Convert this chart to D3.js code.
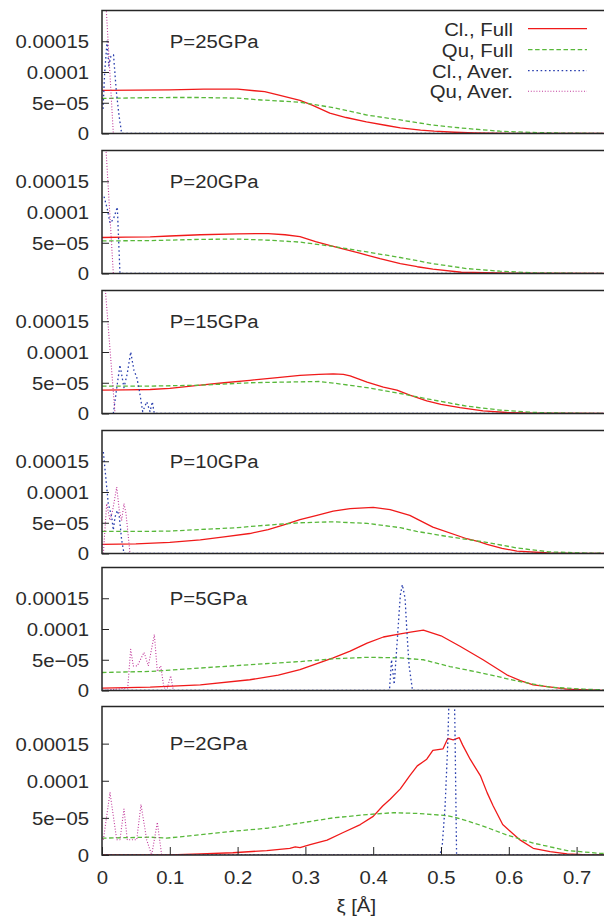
<!DOCTYPE html>
<html>
<head>
<meta charset="utf-8">
<script src="https://cdn.jsdelivr.net/npm/d3@7"></script>
<style>
  html, body { margin: 0; padding: 0; background: #fff; }
  svg { display: block; }
  text { font-family: "Liberation Sans", Arial, Helvetica, sans-serif; fill: #2b2b2b; }
</style>
</head>
<body>
<svg id="chart" width="604" height="920"></svg>
<script>
// ---------------- DATA (values in units of 1e-5) ----------------
const yUnit = 1e-5;
const panelLabels = ["P=25GPa", "P=20GPa", "P=15GPa", "P=10GPa", "P=5GPa", "P=2GPa"];
const seriesNames = ["Cl., Full", "Qu, Full", "Cl., Aver.", "Qu, Aver."];
const yTickValues = [0, 5e-5, 1e-4, 1.5e-4];
const yTickLabels = ["0", "5e\u221205", "0.0001", "0.00015"];
const xTickValues = [0, 0.1, 0.2, 0.3, 0.4, 0.5, 0.6, 0.7];
const xTickLabels = ["0", "0.1", "0.2", "0.3", "0.4", "0.5", "0.6", "0.7"];
const xTitle = "\u03BE [\u00C5]";

// P = 25 GPa
const clFull25 = [[0,7.0],[0.05,7.05],[0.1,7.1],[0.15,7.2],[0.2,7.2],[0.225,6.95],[0.24,6.8],[0.2625,6.2],[0.292,5.4],[0.31,4.6],[0.336,3.3],[0.36,2.6],[0.39,1.9],[0.42,1.3],[0.44,0.9],[0.47,0.55],[0.49,0.37],[0.52,0.2],[0.55,0.1],[0.6,0.03],[0.65,0.01],[0.74,0]];
const quFull25 = [[0,5.7],[0.05,5.8],[0.1,5.85],[0.145,5.85],[0.2,5.75],[0.235,5.45],[0.292,5.1],[0.341,4.2],[0.391,3.0],[0.44,2.2],[0.488,1.36],[0.538,0.81],[0.587,0.37],[0.636,0.16],[0.69,0.05],[0.74,0.02]];
const clAver25 = [[0.0015,4.0],[0.004,10],[0.0075,15],[0.010,11],[0.013,12.5],[0.017,12.8],[0.021,7],[0.025,3],[0.029,0],[0.74,0]];
const quAver25 = [[0.002,28.5],[0.0167,0],[0.74,0]];

// P = 20 GPa
const clFull20 = [[0,5.85],[0.035,5.9],[0.071,5.95],[0.1,6.1],[0.145,6.3],[0.2,6.45],[0.245,6.5],[0.27,6.3],[0.292,6.0],[0.315,5.2],[0.341,4.4],[0.38,3.3],[0.41,2.4],[0.44,1.6],[0.465,1.1],[0.488,0.7],[0.53,0.2],[0.6,0.05],[0.74,0]];
const quFull20 = [[0,5.3],[0.071,5.35],[0.145,5.55],[0.2,5.6],[0.25,5.4],[0.292,5.1],[0.341,4.4],[0.391,3.5],[0.44,2.6],[0.488,1.6],[0.538,0.8],[0.587,0.37],[0.636,0.12],[0.69,0.04],[0.74,0.01]];
const clAver20 = [[0.003,12.5],[0.0078,10.5],[0.0118,8.2],[0.0167,8.8],[0.0226,10.8],[0.0265,0],[0.74,0]];
const quAver20 = [[0.002,27.5],[0.0167,0],[0.74,0]];

// P = 15 GPa
const clFull15 = [[0,3.8],[0.035,3.85],[0.071,3.9],[0.1,4.1],[0.145,4.6],[0.18,5.0],[0.218,5.4],[0.255,5.8],[0.292,6.2],[0.32,6.35],[0.341,6.45],[0.356,6.35],[0.366,6.1],[0.391,5.1],[0.415,4.3],[0.435,3.8],[0.454,3.0],[0.479,2.05],[0.5,1.5],[0.528,0.97],[0.562,0.43],[0.597,0.16],[0.64,0.04],[0.74,0]];
const quFull15 = [[0,4.45],[0.071,4.45],[0.145,4.6],[0.218,5.0],[0.292,5.15],[0.32,5.2],[0.341,4.95],[0.391,4.2],[0.44,3.25],[0.488,2.2],[0.538,1.2],[0.587,0.55],[0.636,0.18],[0.69,0.05],[0.74,0.01]];
const clAver15 = [[0.0167,0],[0.0217,4.1],[0.0265,7.9],[0.0324,4.2],[0.0373,6.5],[0.0423,10.0],[0.0472,7.0],[0.0512,5.9],[0.055,3.8],[0.06,0.3],[0.066,1.9],[0.0708,0.3],[0.0742,1.9],[0.0771,0],[0.74,0]];
const quAver15 = [[0.0005,26.4],[0.0192,0],[0.74,0]];

// P = 10 GPa
const clFull10 = [[0,1.5],[0.05,1.55],[0.1,1.8],[0.145,2.2],[0.18,2.7],[0.218,3.25],[0.245,3.9],[0.267,4.6],[0.292,5.5],[0.317,6.2],[0.341,6.9],[0.366,7.3],[0.4,7.5],[0.425,7.15],[0.454,6.2],[0.488,4.3],[0.538,2.4],[0.557,1.9],[0.568,1.5],[0.59,0.85],[0.612,0.37],[0.66,0.08],[0.7,0.02],[0.74,0]];
const quFull10 = [[0,3.6],[0.071,3.6],[0.1,3.65],[0.145,3.9],[0.2,4.2],[0.218,4.4],[0.292,5.0],[0.341,5.15],[0.391,4.9],[0.44,4.2],[0.464,3.6],[0.513,2.7],[0.562,1.9],[0.612,0.9],[0.66,0.26],[0.71,0.08],[0.74,0.03]];
const clAver10 = [[0.002,16.5],[0.006,11.9],[0.0093,8.1],[0.0143,5.95],[0.0167,3.8],[0.0192,5.95],[0.0226,7.0],[0.0255,6.0],[0.029,2.2],[0.0324,0],[0.74,0]];
const quAver10 = [[0.002,0],[0.0069,8.1],[0.0118,5.4],[0.0157,7.0],[0.0217,10.8],[0.0255,7.0],[0.029,5.4],[0.0324,8.1],[0.0354,6.5],[0.0413,0],[0.74,0]];

// P = 5 GPa
const clFull5 = [[0,0.4],[0.071,0.55],[0.145,0.93],[0.218,1.75],[0.26,2.5],[0.292,3.4],[0.341,5.3],[0.366,6.4],[0.391,7.7],[0.415,8.7],[0.44,9.2],[0.455,9.5],[0.474,9.8],[0.5,8.9],[0.528,7.2],[0.562,5.0],[0.597,2.55],[0.617,1.6],[0.636,0.93],[0.686,0.22],[0.74,0.02]];
const quFull5 = [[0,2.93],[0.071,3.1],[0.145,3.65],[0.218,4.2],[0.292,4.7],[0.341,5.15],[0.391,5.4],[0.44,5.3],[0.474,5.0],[0.513,3.9],[0.562,2.8],[0.612,1.55],[0.66,0.55],[0.71,0.22],[0.74,0.1]];
const clAver5 = [[0,0],[0.424,0],[0.427,5],[0.431,1],[0.436,9],[0.44,15.5],[0.443,17.2],[0.447,15],[0.45,9],[0.453,4],[0.458,0],[0.74,0]];
const quAver5 = [[0,0],[0.0379,0.4],[0.0423,6.7],[0.0462,4.0],[0.0521,4.0],[0.062,6.2],[0.0683,4.0],[0.0772,9.1],[0.0816,3.1],[0.0866,4.0],[0.0914,0.4],[0.0963,0.4],[0.1013,2.4],[0.1052,0],[0.74,0]];

// P = 2 GPa
const clFull2 = [[0,0],[0.1,0.02],[0.145,0.14],[0.193,0.3],[0.243,0.6],[0.277,0.9],[0.285,1.1],[0.292,1.0],[0.307,1.4],[0.332,2.0],[0.355,3.0],[0.381,4.1],[0.4,5.2],[0.414,6.6],[0.425,7.5],[0.44,8.9],[0.454,10.7],[0.465,12.0],[0.479,12.9],[0.488,14.1],[0.503,14.3],[0.51,15.7],[0.518,15.5],[0.527,15.8],[0.532,14.8],[0.543,12.9],[0.558,10.7],[0.568,8.4],[0.577,6.6],[0.591,4.1],[0.602,3.2],[0.617,2.0],[0.636,0.9],[0.661,0.45],[0.686,0.14],[0.709,0.05],[0.74,0]];
const quFull2 = [[0,2.27],[0.071,2.4],[0.095,2.27],[0.145,2.73],[0.193,3.2],[0.243,3.6],[0.292,4.3],[0.341,5.0],[0.391,5.45],[0.43,5.7],[0.465,5.6],[0.509,5.3],[0.528,4.9],[0.562,3.9],[0.597,2.7],[0.636,1.6],[0.686,0.6],[0.734,0.23],[0.74,0.2]];
const clAver2 = [[0,0],[0.4985,0],[0.502,1.5],[0.506,6.5],[0.51,15],[0.513,25],[0.516,30],[0.519,25],[0.5206,17],[0.522,7],[0.523,0],[0.74,0]];
const quAver2 = [[0.002,2.05],[0.0118,8.4],[0.0217,2.05],[0.0265,2.05],[0.0324,6.2],[0.0373,2.05],[0.0512,2.05],[0.0575,6.8],[0.066,2.0],[0.0733,0],[0.0816,4.4],[0.088,0],[0.74,0]];

const panelData = [
  [clFull25, quFull25, clAver25, quAver25],
  [clFull20, quFull20, clAver20, quAver20],
  [clFull15, quFull15, clAver15, quAver15],
  [clFull10, quFull10, clAver10, quAver10],
  [clFull5,  quFull5,  clAver5,  quAver5],
  [clFull2,  quFull2,  clAver2,  quAver2]
];

// ---------------- LAYOUT / STYLE ----------------
const panelBox = [[10.5,133.5],[150.5,273.5],[290.5,413.5],[430.5,553.5],[567.5,690.5],[706.5,855]];
const styles = [
  { color: "#f01a1a", width: 1.3, dash: null },
  { color: "#58b83a", width: 1.3, dash: "4.5,2.6" },
  { color: "#2a3fae", width: 1.3, dash: "1.6,2.6" },
  { color: "#c0389a", width: 1.1, dash: "1,1.8" }
];
const SX = 1.13;   // horizontal stretch of the reference's text
const FS = 18;

const svg = d3.select("#chart");
svg.append("rect").attr("width", 604).attr("height", 920).attr("fill", "#fff");

const x = d3.scaleLinear().domain([0, 0.75]).range([102, 610.5]);

function stext(g, px, py, str, anchor) {
  return g.append("text")
    .attr("transform", `translate(${px},${py}) scale(${SX},1)`)
    .attr("text-anchor", anchor)
    .attr("font-size", FS)
    .text(str);
}

panelData.forEach((series, pi) => {
  const [top, bottom] = panelBox[pi];
  const y = d3.scaleLinear().domain([0, 2e-4]).range([bottom, top]);
  const g = svg.append("g");
  const clipId = "clip" + pi;
  svg.append("clipPath").attr("id", clipId)
    .append("rect").attr("x", x(0)).attr("y", top).attr("width", x(0.75) - x(0)).attr("height", bottom - top);

  const line = d3.line().x(d => x(d[0])).y(d => y(d[1] * yUnit));
  const lg = g.append("g").attr("clip-path", `url(#${clipId})`);
  series.forEach((data, si) => {
    const st = styles[si];
    lg.append("path").datum(data)
      .attr("d", line)
      .attr("fill", "none")
      .attr("stroke", st.color)
      .attr("stroke-width", st.width)
      .attr("stroke-dasharray", st.dash)
      .attr("stroke-linejoin", "round");
  });

  // frame
  g.append("rect").attr("x", x(0)).attr("y", top).attr("width", x(0.75) - x(0)).attr("height", bottom - top)
    .attr("fill", "none").attr("stroke", "#262626").attr("stroke-width", 1.5);

  // y axis
  const ya = g.append("g").attr("transform", `translate(${x(0)},0)`)
    .call(d3.axisLeft(y).tickValues(yTickValues).tickSize(-7).tickPadding(13)
      .tickFormat((d, i) => yTickLabels[i]));
  ya.select(".domain").remove();
  ya.selectAll(".tick line").attr("stroke", "#262626").attr("stroke-width", 1);
  ya.selectAll(".tick text")
    .attr("font-size", FS).attr("font-family", null).attr("fill", "#2b2b2b")
    .attr("x", -13 / SX).attr("dy", "0.36em")
    .attr("transform", `scale(${SX},1)`);

  // panel label
  stext(g, x(0.1), y(1.5e-4), panelLabels[pi], "start").attr("dy", "0.36em");

  // x axis on bottom panel
  if (pi === panelData.length - 1) {
    const xa = g.append("g").attr("transform", `translate(0,${bottom})`)
      .call(d3.axisBottom(x).tickValues(xTickValues).tickSize(-8).tickPadding(16)
        .tickFormat((d, i) => xTickLabels[i]));
    xa.select(".domain").remove();
    xa.selectAll(".tick line").attr("stroke", "#262626").attr("stroke-width", 1);
    xa.selectAll(".tick text")
      .attr("font-size", FS).attr("font-family", null).attr("fill", "#2b2b2b")
      .attr("transform", `scale(${SX},1)`);
    stext(g, x(0.375), 912, xTitle, "middle");
  }
});

// legend
const legY = [28.7, 49.7, 70.7, 91.3];
const lgd = svg.append("g");
seriesNames.forEach((name, i) => {
  stext(lgd, 513, legY[i] + 7, name, "end");
  const st = styles[i];
  lgd.append("line").attr("x1", 528).attr("x2", 587).attr("y1", legY[i]).attr("y2", legY[i])
    .attr("stroke", st.color).attr("stroke-width", st.width).attr("stroke-dasharray", st.dash);
});
</script>
</body>
</html>
